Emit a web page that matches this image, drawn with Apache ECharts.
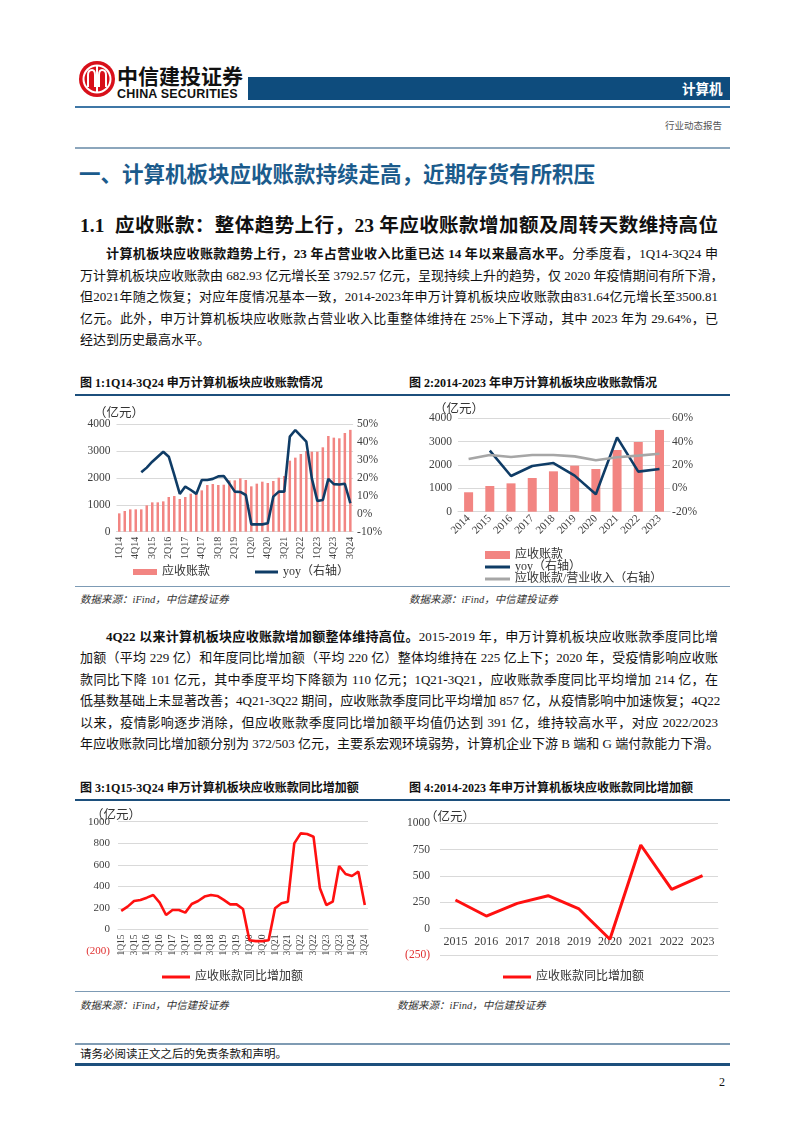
<!DOCTYPE html>
<html><head><meta charset="utf-8">
<script src="https://cdn.jsdelivr.net/npm/echarts@6/dist/echarts.min.js"></script>
<style>
html,body{margin:0;padding:0;background:#fff;}
body{width:802px;height:1133px;position:relative;overflow:hidden;font-family:"Liberation Serif","Noto Sans CJK SC",serif;color:#111;}
.abs{position:absolute;}
.hl{position:absolute;left:75px;width:655px;}
.ln{position:absolute;left:80px;width:638px;font-size:13px;line-height:21px;height:21px;text-align:justify;text-align-last:justify;white-space:nowrap;}
.ln.first{left:106px;width:612px;}
.ln.last{text-align-last:left;}
b{font-weight:bold;}
.ft{position:absolute;font-size:12px;font-weight:bold;line-height:14px;white-space:nowrap;}
.src{position:absolute;font-size:10.5px;font-style:italic;color:#333;white-space:nowrap;}
.chart{position:absolute;}
</style></head>
<body>
<!-- header -->
<svg class="abs" style="left:78px;top:60px" width="38" height="38" viewBox="0 0 38 38">
  <circle cx="19" cy="19" r="18" fill="#d8101a"/>
  <circle cx="19" cy="19" r="13.5" fill="none" stroke="#fff" stroke-width="2"/>
  <path d="M10 27 V15 Q10 10 14 10 Q17 10 17 15 V27 M21 27 V15 Q21 10 24 10 Q28 10 28 15 V27" fill="none" stroke="#fff" stroke-width="2"/>
  <rect x="18" y="6" width="2" height="26" fill="#fff"/>
</svg>
<div class="abs" style="left:117px;top:62px;font-size:21px;font-weight:bold;font-family:'Noto Sans CJK SC';line-height:26px;">中信建投证券</div>
<div class="abs" style="left:117px;top:87px;font-size:12.5px;font-weight:bold;font-family:'Liberation Sans Narrow','Liberation Sans',sans-serif;line-height:14px;letter-spacing:0.2px;">CHINA SECURITIES</div>
<div class="abs" style="left:248px;top:77px;width:482px;height:23px;background:#0e4c7d;"></div>
<div class="abs" style="left:682px;top:79px;font-size:13.5px;font-weight:bold;color:#fff;font-family:'Noto Sans CJK SC';line-height:19px;">计算机</div>
<div class="hl" style="top:106px;height:1.5px;background:#3f77a6;"></div>
<div class="abs" style="left:622px;top:119px;width:100px;text-align:right;font-size:9.5px;color:#555;font-family:'Noto Sans CJK SC';line-height:13px;">行业动态报告</div>
<div class="hl" style="top:147px;height:1.5px;background:#8ca6bc;"></div>

<div class="abs" style="left:79px;top:158px;font-size:21.5px;font-weight:bold;color:#1b5b8c;font-family:'Noto Sans CJK SC';line-height:30px;white-space:nowrap;">一、计算机板块应收账款持续走高，近期存货有所积压</div>
<div class="abs" style="left:80px;top:212px;width:638px;font-size:19.5px;font-weight:bold;line-height:28px;white-space:nowrap;text-align:justify;text-align-last:justify;">1.1&nbsp;&nbsp;应收账款：整体趋势上行，23 年应收账款增加额及周转天数维持高位</div>

<div class="ln first" style="top:243px;"><b>计算机板块应收账款趋势上行，23 年占营业收入比重已达 14 年以来最高水平。</b>分季度看，1Q14-3Q24 申</div>
<div class="ln" style="top:265px;">万计算机板块应收账款由 682.93 亿元增长至 3792.57 亿元，呈现持续上升的趋势，仅 2020 年疫情期间有所下滑，</div>
<div class="ln" style="top:286px;">但2021年随之恢复；对应年度情况基本一致，2014-2023年申万计算机板块应收账款由831.64亿元增长至3500.81</div>
<div class="ln" style="top:308px;">亿元。此外，申万计算机板块应收账款占营业收入比重整体维持在 25%上下浮动，其中 2023 年为 29.64%，已</div>
<div class="ln last" style="top:329px;">经达到历史最高水平。</div>

<div class="ft" style="left:80px;top:376px;">图 1:1Q14-3Q24 申万计算机板块应收账款情况</div>
<div class="ft" style="left:409px;top:376px;">图 2:2014-2023 年申万计算机板块应收账款情况</div>
<div class="hl" style="top:394px;height:2px;background:#1c4f7c;"></div>
<div class="hl" style="top:586px;height:1px;background:#7d9bb5;"></div>
<div class="src" style="left:80px;top:591px;">数据来源：iFind，中信建投证券</div>
<div class="src" style="left:409px;top:591px;">数据来源：iFind，中信建投证券</div>

<div class="ln first" style="top:626px;"><b>4Q22 以来计算机板块应收账款增加额整体维持高位。</b>2015-2019 年，申万计算机板块应收账款季度同比增</div>
<div class="ln" style="top:647px;">加额（平均 229 亿）和年度同比增加额（平均 220 亿）整体均维持在 225 亿上下；2020 年，受疫情影响应收账</div>
<div class="ln" style="top:669px;">款同比下降 101 亿元，其中季度平均下降额为 110 亿元；1Q21-3Q21，应收账款季度同比平均增加 214 亿，在</div>
<div class="ln" style="top:690px;">低基数基础上未显著改善；4Q21-3Q22 期间，应收账款季度同比平均增加 857 亿，从疫情影响中加速恢复；4Q22</div>
<div class="ln" style="top:712px;">以来，疫情影响逐步消除，但应收账款季度同比增加额平均值仍达到 391 亿，维持较高水平，对应 2022/2023</div>
<div class="ln" style="top:733px;">年应收账款同比增加额分别为 372/503 亿元，主要系宏观环境弱势，计算机企业下游 B 端和 G 端付款能力下滑。</div>

<div class="ft" style="left:80px;top:781px;">图 3:1Q15-3Q24 申万计算机板块应收账款同比增加额</div>
<div class="ft" style="left:409px;top:781px;">图 4:2014-2023 年申万计算机板块应收账款同比增加额</div>
<div class="hl" style="top:799px;height:2px;background:#1c4f7c;"></div>
<div class="hl" style="top:991px;height:1px;background:#7d9bb5;"></div>
<div class="src" style="left:80px;top:997px;">数据来源：iFind，中信建投证券</div>
<div class="src" style="left:397px;top:997px;">数据来源：iFind，中信建投证券</div>

<div class="hl" style="top:1043px;height:2px;background:#7f9bb3;"></div>
<div class="abs" style="left:80px;top:1047px;font-size:11.5px;line-height:14px;">请务必阅读正文之后的免责条款和声明。</div>
<div class="hl" style="top:1063px;height:2.5px;background:#1c4f7c;"></div>
<div class="abs" style="left:719px;top:1075px;font-size:12px;line-height:14px;">2</div>

<div id="c1" class="chart" style="left:75px;top:396px;width:310px;height:190px;"></div>
<div id="c2" class="chart" style="left:400px;top:396px;width:300px;height:190px;"></div>
<div id="c3" class="chart" style="left:75px;top:801px;width:310px;height:190px;"></div>
<div id="c4" class="chart" style="left:390px;top:801px;width:340px;height:190px;"></div>

<script>
// ---------- data ----------
var quarters1 = ['1Q14','2Q14','3Q14','4Q14','1Q15','2Q15','3Q15','4Q15','1Q16','2Q16','3Q16','4Q16','1Q17','2Q17','3Q17','4Q17','1Q18','2Q18','3Q18','4Q18','1Q19','2Q19','3Q19','4Q19','1Q20','2Q20','3Q20','4Q20','1Q21','2Q21','3Q21','4Q21','1Q22','2Q22','3Q22','4Q22','1Q23','2Q23','3Q23','4Q23','1Q24','2Q24','3Q24'];
var receivQ = [683,770,832,832,832,981,1093,1093,1130,1292,1329,1217,1292,1416,1416,1540,1739,1776,1739,1750,1913,1913,1988,1925,1689,1789,1863,1814,1888,2012,2075,2646,2758,2894,3006,2981,2981,3143,3565,3503,3478,3677,3793];
var yoyQ = [null,null,null,null,23.2,25.8,29.1,31.9,34.7,31.9,21.7,11.1,15.2,13.3,11.1,18.9,18.9,19.5,20.9,21.1,17.0,12.4,12.2,10.5,-5.9,-5.9,-5.9,-5.3,9.6,12.4,12.4,43.1,46.8,43.5,40.3,19.8,7.2,7.7,19.5,16.6,16.4,16.8,5.9];

var years2 = ['2014','2015','2016','2017','2018','2019','2020','2021','2022','2023'];
var receivY = [832,1100,1214,1443,1729,1971,1829,2643,2986,3501];
var yoyY = [null,32.3,10.6,19.1,21.7,10.9,-5.1,43.7,14.3,16.6];
var ratioY = [25.1,28.6,26.9,28.6,28.6,27.4,24.0,26.6,28.0,29.6];

var quarters3 = ['1Q15','2Q15','3Q15','4Q15','1Q16','2Q16','3Q16','4Q16','1Q17','2Q17','3Q17','4Q17','1Q18','2Q18','3Q18','4Q18','1Q19','2Q19','3Q19','4Q19','1Q20','2Q20','3Q20','4Q20','1Q21','2Q21','3Q21','4Q21','1Q22','2Q22','3Q22','4Q22','1Q23','2Q23','3Q23','4Q23','1Q24','2Q24','3Q24'];
var incrQ = [172,212,264,274,295,320,249,134,181,181,156,236,264,305,320,311,274,233,233,190,-100,-108,-108,-100,196,243,258,799,892,886,861,382,227,258,589,515,496,536,227];

var years4 = ['2015','2016','2017','2018','2019','2020','2021','2022','2023'];
var incrY = [272,120,240,313,187,-101,794,372,503];

// ---------- style ----------
var SERIF = 'Liberation Serif, Noto Sans CJK SC, serif';
var GRID = '#d9d9d9';
var LBL = '#404040';
var NAVY = '#0f3c66';
var SALMON = '#f28582';
var RED = '#ff1010';

function axisLbl(size, extra){
  var o = {color: LBL, fontFamily: SERIF, fontSize: size};
  for (var k in extra) o[k] = extra[k];
  return o;
}
function titleOpt(l, t){
  return {text:'（亿元）', left:l, top:t, textStyle:{fontFamily:SERIF, fontSize:12.5, fontWeight:'normal', color:'#333'}};
}
function plain(v){ return String(v); }
function pct(v){ return v + '%'; }
function negFmt(v){ return v < 0 ? '{neg|(' + (-v) + ')}' : String(v); }
function lg(name, left, top, w, h, icon){
  return {left:left, top:top, itemWidth:w, itemHeight:h, icon:icon,
    textStyle:{fontFamily:SERIF, fontSize:12, color:'#333'}, data:[name]};
}

// Chart 1
var ch1 = echarts.init(document.getElementById('c1'));
ch1.setOption({
  animation:false,
  title: titleOpt(14, 6),
  grid:{left:41.5, top:28.3, width:237.5, height:107.4},
  legend:[lg('应收账款', 53, 165, 24, 6, 'rect'), lg('yoy（右轴）', 175, 165, 23, 3, 'rect')],
  xAxis:{type:'category', data:quarters1, axisTick:{show:false},
    axisLine:{lineStyle:{color:GRID}},
    axisLabel: axisLbl(10, {rotate:90, interval:2, margin:5})},
  yAxis:[
    {type:'value', min:0, max:4000, interval:1000, splitLine:{lineStyle:{color:GRID}},
     axisLabel: axisLbl(11.5, {margin:6, formatter:plain})},
    {type:'value', min:-10, max:50, interval:10, splitLine:{show:false},
     axisLabel: axisLbl(11.5, {margin:4, formatter:pct})}
  ],
  series:[
    {name:'应收账款', type:'bar', data:receivQ, barWidth:2.5, itemStyle:{color:SALMON}},
    {name:'yoy（右轴）', type:'line', yAxisIndex:1, data:yoyQ, symbol:'none', lineStyle:{color:NAVY, width:2.6}, itemStyle:{color:NAVY}}
  ]
});

// Chart 2
var ch2 = echarts.init(document.getElementById('c2'));
ch2.setOption({
  animation:false,
  title: titleOpt(29, 2),
  grid:{left:58, top:22.3, width:216, height:93.4},
  legend:[lg('应收账款', 80, 148, 25, 8, 'rect'),
          lg('yoy（右轴）', 80, 160, 25, 3, 'rect'),
          lg('应收账款/营业收入（右轴）', 80, 172, 25, 3, 'rect')],
  xAxis:{type:'category', data:years2, axisTick:{show:false},
    axisLine:{lineStyle:{color:GRID}},
    axisLabel: axisLbl(11, {rotate:45, interval:0, margin:5})},
  yAxis:[
    {type:'value', min:0, max:4000, interval:1000, splitLine:{lineStyle:{color:GRID}},
     axisLabel: axisLbl(11.5, {margin:6, formatter:plain})},
    {type:'value', min:-20, max:60, interval:20, splitLine:{show:false},
     axisLabel: axisLbl(11.5, {margin:2, formatter:pct})}
  ],
  series:[
    {name:'应收账款', type:'bar', data:receivY, barWidth:9, itemStyle:{color:SALMON}},
    {name:'yoy（右轴）', type:'line', yAxisIndex:1, data:yoyY, symbol:'none', lineStyle:{color:NAVY, width:2.6}, itemStyle:{color:NAVY}},
    {name:'应收账款/营业收入（右轴）', type:'line', yAxisIndex:1, data:ratioY, symbol:'none', lineStyle:{color:'#a6a6a6', width:2.6}, itemStyle:{color:'#a6a6a6'}}
  ]
});

// Chart 3  (zero line sits 200/1200 of the plot height above the bottom)
var h3 = 129.3;
var ch3 = echarts.init(document.getElementById('c3'));
ch3.setOption({
  animation:false,
  title: titleOpt(11, 3),
  grid:{left:43, top:20.7, width:250, height:h3},
  legend: lg('应收账款同比增加额', 82, 165, 28, 3, 'rect'),
  xAxis:{type:'category', data:quarters3, axisTick:{show:false},
    offset: -h3 * 200 / 1200,
    axisLine:{onZero:false, lineStyle:{color:GRID}},
    axisLabel: axisLbl(9.5, {rotate:90, interval:1, margin:5})},
  yAxis:{type:'value', min:-200, max:1000, interval:200, splitLine:{lineStyle:{color:GRID}},
    axisLabel: axisLbl(11, {margin:8, formatter:negFmt, rich:{neg:{color:'#e03030', fontFamily:SERIF, fontSize:11}}})},
  series:[{name:'应收账款同比增加额', type:'line', data:incrQ, symbol:'none', lineStyle:{color:RED, width:2.6}, itemStyle:{color:RED}}]
});

// Chart 4
var h4 = 131.7;
var ch4 = echarts.init(document.getElementById('c4'));
ch4.setOption({
  animation:false,
  title: titleOpt(30, 5),
  grid:{left:50, top:22.3, width:278, height:h4},
  legend: lg('应收账款同比增加额', 108, 165, 28, 3, 'rect'),
  xAxis:{type:'category', data:years4, axisTick:{show:false},
    offset: -h4 * 250 / 1250,
    axisLine:{onZero:false, lineStyle:{color:GRID}},
    axisLabel: axisLbl(12, {interval:0, margin:7})},
  yAxis:{type:'value', min:-250, max:1000, interval:250, splitLine:{lineStyle:{color:GRID}},
    axisLabel: axisLbl(11.5, {margin:10, formatter:negFmt, rich:{neg:{color:'#e03030', fontFamily:SERIF, fontSize:11.5}}})},
  series:[{name:'应收账款同比增加额', type:'line', data:incrY, symbol:'none', lineStyle:{color:RED, width:3}, itemStyle:{color:RED}}]
});
</script>
</body></html>
